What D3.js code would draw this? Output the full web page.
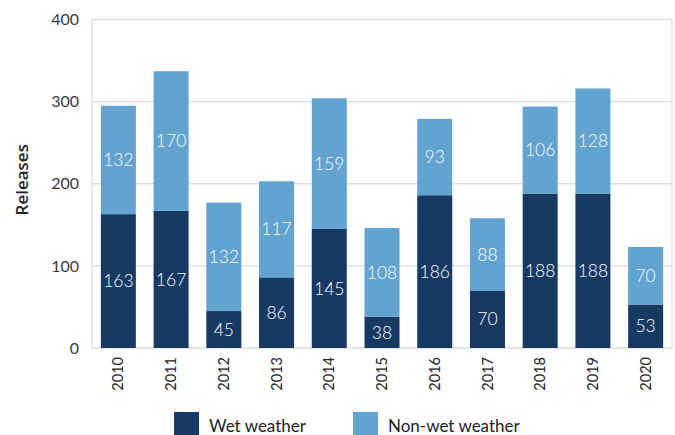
<!DOCTYPE html>
<html><head><meta charset="utf-8">
<script src="https://cdn.jsdelivr.net/npm/d3@7"></script>
<style>body{margin:0;background:#fff;}</style>
</head><body><svg id="c" width="675" height="435"></svg>
<script>
const years = ["2010","2011","2012","2013","2014","2015","2016","2017","2018","2019","2020"];
const wet = [163,167,45,86,145,38,186,70,188,188,53];
const nonWet = [132,170,132,117,159,108,93,88,106,128,70];
const yTicks = [0,100,200,300,400];
const seriesNames = ["Wet weather","Non-wet weather"];
const colors = ["#173a64","#62a3cf"];

const svg = d3.select("#c");
const m = {l:92, r:672, t:19.5, b:348};
const x = d3.scaleBand().domain(years).range([m.l,m.r]).paddingInner(0.336).paddingOuter(0.168);
const y = d3.scaleLinear().domain([0,400]).range([m.b,m.t]);
const F = "Lato, 'Open Sans', sans-serif";

// grid
svg.append("g").selectAll("line").data(yTicks).join("line")
  .attr("x1",m.l).attr("x2",m.r).attr("y1",d=>y(d)).attr("y2",d=>y(d))
  .attr("stroke","#dcdcdc").attr("stroke-width",1.3);
svg.append("line").attr("x1",m.l).attr("x2",m.l).attr("y1",m.t).attr("y2",m.b).attr("stroke","#dcdcdc").attr("stroke-width",1.3);
svg.append("line").attr("x1",m.r).attr("x2",m.r).attr("y1",m.t).attr("y2",m.b).attr("stroke","#dcdcdc").attr("stroke-width",1.3);

// y axis labels
const ya = svg.append("g").attr("transform",`translate(${m.l},0)`).call(d3.axisLeft(y).tickValues(yTicks).tickSize(0).tickPadding(13));
ya.select(".domain").remove();
ya.selectAll("text").style("font-family",F).style("font-size","16px").style("font-weight",400).attr("fill","#3a3a3a");

// x axis labels
const xa = svg.append("g").attr("transform",`translate(0,${m.b})`).call(d3.axisBottom(x).tickSize(0));
xa.select(".domain").remove();
xa.selectAll("text").style("font-family",F).style("font-size","14.5px").style("font-weight",400).attr("fill","#222")
  .attr("transform","rotate(-90)").attr("text-anchor","end").attr("dx","-9").attr("dy","0.35em").attr("x",0).attr("y",0);

// y title
svg.append("text").attr("transform",`translate(28,${(m.t+m.b)/2-4}) rotate(-90)`).attr("text-anchor","middle")
  .style("font-family","'Open Sans', sans-serif").style("font-size","17px").style("font-weight",600).attr("fill","#222").text("Releases");

// bars
const data = years.map((yr,i)=>({yr, w:wet[i], n:nonWet[i]}));
const g = svg.append("g");
g.selectAll("rect.w").data(data).join("rect").attr("class","w")
  .attr("x",d=>x(d.yr)).attr("width",x.bandwidth()).attr("y",d=>y(d.w)).attr("height",d=>y(0)-y(d.w)).attr("fill",colors[0]);
g.selectAll("rect.n").data(data).join("rect").attr("class","n")
  .attr("x",d=>x(d.yr)).attr("width",x.bandwidth()).attr("y",d=>y(d.w+d.n)).attr("height",d=>y(d.w)-y(d.w+d.n)).attr("fill",colors[1]);
g.selectAll("text.w").data(data).join("text").attr("class","w")
  .attr("x",d=>x(d.yr)+x.bandwidth()/2).attr("y",d=>y(d.w/2)).attr("dy","0.35em").attr("text-anchor","middle")
  .style("font-family",F).style("font-size","17.5px").style("font-weight",300).attr("fill","#fff").text(d=>d.w);
g.selectAll("text.n").data(data).join("text").attr("class","n")
  .attr("x",d=>x(d.yr)+x.bandwidth()/2).attr("y",d=>y(d.w+d.n/2)).attr("dy","0.35em").attr("text-anchor","middle")
  .style("font-family",F).style("font-size","17.5px").style("font-weight",300).attr("fill","#fff").text(d=>d.n);

// legend
const legX = [174, 353];
const lg = svg.append("g");
seriesNames.forEach((s,i)=>{
  lg.append("rect").attr("x",legX[i]).attr("y",412).attr("width",25).attr("height",25).attr("fill",colors[i]);
  lg.append("text").attr("x",legX[i]+35).attr("y",432).style("font-family",F).style("font-size","17px").style("font-weight",400).attr("fill","#222").text(s);
});
</script></body></html>
